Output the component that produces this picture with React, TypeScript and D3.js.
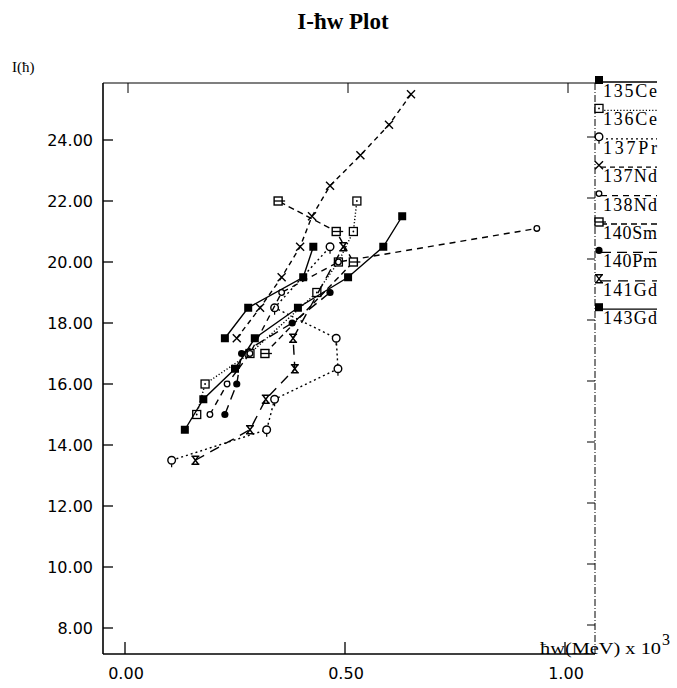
import React from 'react';
import * as d3 from 'd3';

// series: [hw (MeV x 10^3), I (hbar)]
const ce135 = [[0.227, 17.5], [0.28, 18.5], [0.405, 19.5], [0.428, 20.5]];
const ce136 = [[0.163, 15], [0.182, 16], [0.284, 17], [0.436, 19], [0.485, 20], [0.519, 21], [0.527, 22]];
const pr137 = [[0.106, 13.5], [0.322, 14.5], [0.34, 15.5], [0.484, 16.5], [0.48, 17.5], [0.34, 18.5], [0.466, 20.5]];
const nd137 = [[0.254, 17.5], [0.307, 18.5], [0.356, 19.5], [0.398, 20.5], [0.425, 21.5], [0.466, 22.5], [0.535, 23.5], [0.6, 24.5], [0.65, 25.5]];
const nd138 = [[0.193, 15], [0.232, 16], [0.284, 17], [0.356, 19], [0.485, 20], [0.936, 21.1]];
const sm140 = [[0.318, 17], [0.519, 20], [0.48, 21], [0.348, 22]];
const pm140 = [[0.227, 15], [0.254, 16], [0.265, 17], [0.38, 18], [0.466, 19]];
const gd141 = [[0.16, 13.5], [0.284, 14.5], [0.32, 15.5], [0.386, 16.5], [0.382, 17.5], [0.496, 20.5]];
const gd143 = [[0.136, 14.5], [0.178, 15.5], [0.25, 16.5], [0.295, 17.5], [0.393, 18.5], [0.507, 19.5], [0.587, 20.5], [0.63, 21.5]];

const names = ['135Ce', '136Ce', '137Pr', '137Nd', '138Nd', '140Sm', '140Pm', '141Gd', '143Gd'];
const seriesData = [ce135, ce136, pr137, nd137, nd138, sm140, pm140, gd141, gd143];
const markers = ['fsq', 'dsq', 'circ', 'x', 'scirc', 'bsq', 'fcirc', 'hour', 'fsq'];
const dashes = ['', '1.2,2', '2,3', '5,4', '6,5', '6,4', '10,6', '10,7', ''];

const yTicks = [8, 10, 12, 14, 16, 18, 20, 22, 24];
const xTicks = [0, 0.5, 1];

const Marker = ({ type, x, y }) => {
  const s = 4;
  switch (type) {
    case 'fsq':
      return <rect x={x - s} y={y - s} width={2 * s} height={2 * s} fill="#000" />;
    case 'dsq':
      return (
        <g>
          <rect x={x - s} y={y - s} width={2 * s} height={2 * s} fill="#fff" stroke="#000" strokeWidth={1.3} />
          <circle cx={x} cy={y} r={0.9} fill="#000" />
        </g>
      );
    case 'bsq':
      return (
        <g>
          <rect x={x - s} y={y - s} width={2 * s} height={2 * s} fill="#fff" stroke="#000" strokeWidth={1.4} />
          <line x1={x - s} x2={x + s + 3} y1={y} y2={y} stroke="#000" strokeWidth={1.3} />
        </g>
      );
    case 'circ':
      return (
        <g>
          <circle cx={x} cy={y} r={3.8} fill="#fff" stroke="#000" strokeWidth={1.4} />
          <line x1={x} x2={x} y1={y + 4} y2={y + 7} stroke="#000" strokeWidth={1.2} />
        </g>
      );
    case 'scirc':
      return <circle cx={x} cy={y} r={2.8} fill="#fff" stroke="#000" strokeWidth={1.3} />;
    case 'fcirc':
      return <circle cx={x} cy={y} r={3.6} fill="#000" />;
    case 'x':
      return (
        <path d={`M${x - s},${y - s}L${x + s},${y + s}M${x - s},${y + s}L${x + s},${y - s}`} stroke="#000" strokeWidth={1.4} fill="none" />
      );
    case 'hour':
      return (
        <path
          d={`M${x - s},${y - s}L${x + s},${y - s}M${x - s},${y + s}L${x + s},${y + s}M${x - s + 1},${y - s}L${x + s - 1},${y + s}M${x + s - 1},${y - s}L${x - s + 1},${y + s}`}
          stroke="#000"
          strokeWidth={1.4}
          fill="none"
        />
      );
    default:
      return null;
  }
};

export default function App() {
  const left = 103, right = 595, top = 83, bottom = 654;
  const x = d3.scaleLinear().domain([0, 1]).range([125, 565]);
  const y = d3.scaleLinear().domain([8, 24]).range([628, 140]);
  const line = d3.line().x(d => x(d[0])).y(d => y(d[1]));

  const legendY = i => 80 + i * 28.4;

  return (
    <svg width={677} height={688} style={{ position: 'absolute', left: 0, top: 0, background: '#fff' }}>
      <rect x={0} y={0} width={677} height={688} fill="#fff" />
      <text x={343} y={29} textAnchor="middle" fontFamily="Liberation Serif" fontWeight="bold" fontSize={23}>
        I-ħw Plot
      </text>
      <text x={12} y={72} fontFamily="Liberation Serif" fontSize={15}>I(ħ)</text>

      {/* frame */}
      <line x1={left} x2={left} y1={top} y2={bottom} stroke="#000" strokeWidth={1.6} />
      <line x1={left} x2={right} y1={bottom} y2={bottom} stroke="#000" strokeWidth={1.6} />
      <line x1={left} x2={right} y1={top} y2={top} stroke="#000" strokeWidth={1.2} />
      <line x1={right} x2={right} y1={top} y2={bottom} stroke="#000" strokeWidth={1} strokeDasharray="7,2,1,2" />

      {yTicks.map(t => (
        <g key={'y' + t}>
          <line x1={left} x2={left + 10} y1={y(t)} y2={y(t)} stroke="#000" strokeWidth={1.3} />
          <line x1={right - 8} x2={right} y1={y(t) - 3} y2={y(t) - 3} stroke="#000" strokeWidth={1} />
          <text x={93} y={y(t) + 6} textAnchor="end" fontFamily="DejaVu Sans" fontSize={16}>
            {t.toFixed(2)}
          </text>
        </g>
      ))}
      {xTicks.map(t => (
        <g key={'x' + t}>
          <line x1={x(t)} x2={x(t)} y1={bottom} y2={bottom - 12} stroke="#000" strokeWidth={1.3} />
          <line x1={x(t) + 3} x2={x(t) + 3} y1={top} y2={top + 10} stroke="#000" strokeWidth={1} />
          <text x={x(t) + 1} y={679} textAnchor="middle" fontFamily="DejaVu Sans" fontSize={16}>
            {t.toFixed(2)}
          </text>
        </g>
      ))}
      <text x={540} y={654} fontFamily="Liberation Serif" fontSize={17} textLength={121} lengthAdjust="spacingAndGlyphs">
        ħw(MeV) x 10
      </text>
      <text x={662} y={645} fontFamily="Liberation Serif" fontSize={16}>3</text>

      {/* series */}
      {seriesData.map((s, i) => (
        <g key={names[i]}>
          <path d={line(s)} fill="none" stroke="#000" strokeWidth={1.4} strokeDasharray={dashes[i] || undefined} />
          {s.map((d, j) => (
            <Marker key={j} type={markers[i]} x={x(d[0])} y={y(d[1])} />
          ))}
        </g>
      ))}

      {/* legend */}
      {names.map((n, i) => (
        <g key={'l' + n}>
          <line x1={601} x2={657} y1={legendY(i) + 2} y2={legendY(i) + 2} stroke="#000" strokeWidth={1.3} strokeDasharray={dashes[i] || undefined} />
          <Marker type={markers[i]} x={599} y={legendY(i)} />
          <text x={603} y={legendY(i) + 17} fontFamily="Liberation Serif" fontSize={18} textLength={54}>
            {n}
          </text>
        </g>
      ))}
    </svg>
  );
}
